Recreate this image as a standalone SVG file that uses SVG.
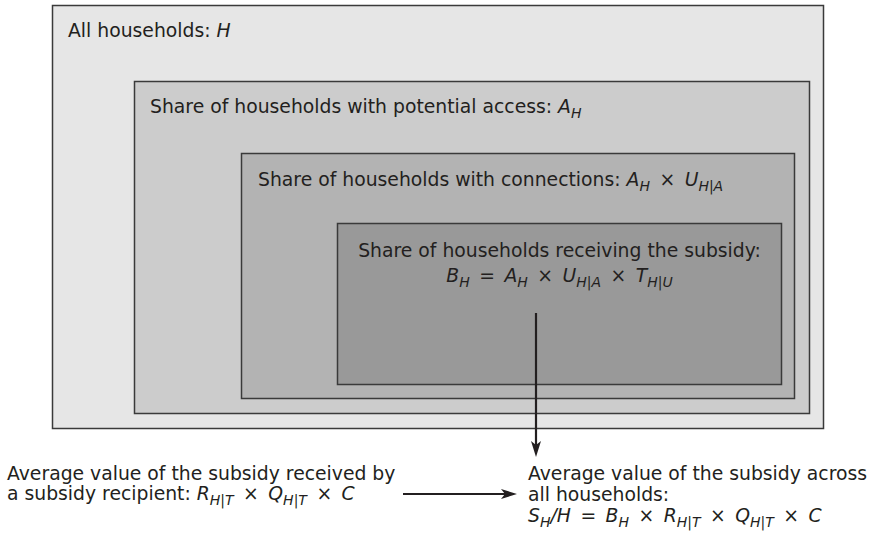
<svg xmlns="http://www.w3.org/2000/svg" width="872" height="537" viewBox="0 0 872 537">
  <style>
    .box { stroke: #3a3a3a; stroke-width: 1.5; }
    .t { font-family: "DejaVu Sans", "Liberation Sans", sans-serif; font-size: 18.8px; fill: #231f20; }
    .i { font-style: italic; }
    .sub { font-size: 14px; font-style: italic; }
    .op { word-spacing: 3.5px; }
    .conn { stroke: #231f20; stroke-width: 2.2; fill: none; }
  </style>
  <defs>
    <marker id="arr" markerUnits="userSpaceOnUse" markerWidth="17" markerHeight="10" refX="9" refY="5" orient="auto">
      <path d="M0,0 L16,5 L0,10 L4,5 z" fill="#231f20"/>
    </marker>
  </defs>
  <rect width="872" height="537" fill="#ffffff"/>

  <g id="all-households">
    <rect class="box" x="52.5" y="5.5" width="771" height="423" fill="#e6e6e6"/>
    <text class="t" x="68" y="37">All households: <tspan class="i">H</tspan></text>
  </g>

  <g id="potential-access">
    <rect class="box" x="134.5" y="81.5" width="675" height="332" fill="#cccccc"/>
    <text class="t" x="150" y="113">Share of households with potential access: <tspan class="i">A</tspan><tspan class="sub" dy="5">H</tspan></text>
  </g>

  <g id="connections">
    <rect class="box" x="241.5" y="153.5" width="553" height="245" fill="#b3b3b3"/>
    <text class="t" x="258" y="186">Share of households with connections: <tspan class="i">A</tspan><tspan class="sub" dy="5">H</tspan><tspan class="op" dy="-5"> × </tspan><tspan class="i">U</tspan><tspan class="sub" dy="5">H|A</tspan></text>
  </g>

  <g id="receiving-subsidy">
    <rect class="box" x="337.5" y="223.5" width="444" height="161" fill="#999999"/>
    <text class="t" x="559.5" y="257" text-anchor="middle">Share of households receiving the subsidy:</text>
    <text class="t" x="559.5" y="282" text-anchor="middle"><tspan class="i">B</tspan><tspan class="sub" dy="5">H</tspan><tspan class="op" dy="-5"> = </tspan><tspan class="i">A</tspan><tspan class="sub" dy="5">H</tspan><tspan class="op" dy="-5"> × </tspan><tspan class="i">U</tspan><tspan class="sub" dy="5">H|A</tspan><tspan class="op" dy="-5"> × </tspan><tspan class="i">T</tspan><tspan class="sub" dy="5">H|U</tspan></text>
  </g>

  <g id="value-per-recipient">
    <text class="t" x="7" y="480">Average value of the subsidy received by</text>
    <text class="t" x="7" y="500">a subsidy recipient: <tspan class="i">R</tspan><tspan class="sub" dy="5">H|T</tspan><tspan class="op" dy="-5"> × </tspan><tspan class="i">Q</tspan><tspan class="sub" dy="5">H|T</tspan><tspan class="op" dy="-5"> × </tspan><tspan class="i">C</tspan></text>
  </g>

  <g id="value-across-households">
    <text class="t" x="528" y="480">Average value of the subsidy across</text>
    <text class="t" x="528" y="501">all households:</text>
    <text class="t" x="528" y="522"><tspan class="i">S</tspan><tspan class="sub" dy="5">H</tspan><tspan class="i" dy="-5">/H</tspan><tspan class="op"> = </tspan><tspan class="i">B</tspan><tspan class="sub" dy="5">H</tspan><tspan class="op" dy="-5"> × </tspan><tspan class="i">R</tspan><tspan class="sub" dy="5">H|T</tspan><tspan class="op" dy="-5"> × </tspan><tspan class="i">Q</tspan><tspan class="sub" dy="5">H|T</tspan><tspan class="op" dy="-5"> × </tspan><tspan class="i">C</tspan></text>
  </g>

  <g id="connectors">
    <line class="conn" x1="536" y1="313" x2="536" y2="450" marker-end="url(#arr)"/>
    <line class="conn" x1="403" y1="494" x2="510" y2="494" marker-end="url(#arr)"/>
  </g>
</svg>
